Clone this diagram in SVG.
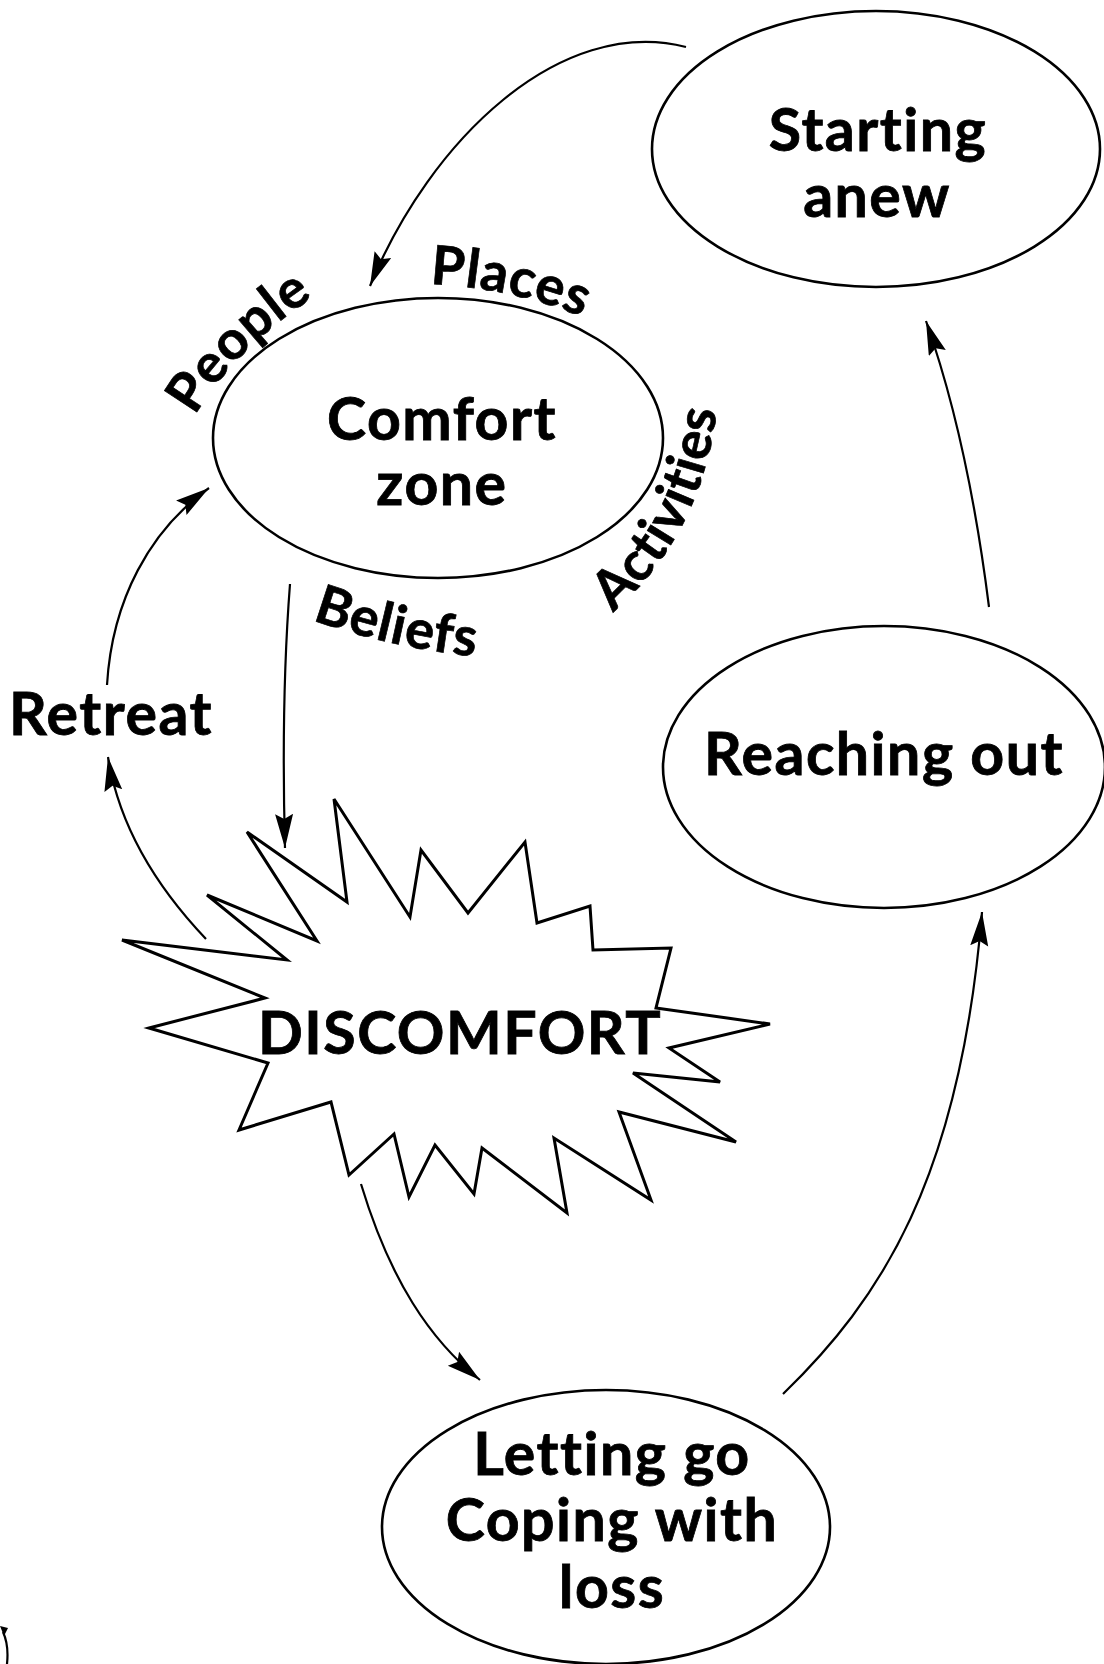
<svg xmlns="http://www.w3.org/2000/svg" width="1104" height="1664" viewBox="0 0 1104 1664">
<style>
.node{fill:#fff;stroke:#000;stroke-width:2.6}
.burst{fill:#fff;stroke:#000;stroke-width:3;stroke-linejoin:miter}
.t{font-family:Lato,"Liberation Sans",sans-serif;font-weight:700;fill:#000;stroke:#000;stroke-width:0.8;text-anchor:middle;font-size:59px;letter-spacing:1.5px;font-variant-ligatures:none;font-feature-settings:"liga" 0,"clig" 0}
.lbl{font-family:Lato,"Liberation Sans",sans-serif;font-weight:700;fill:#000;stroke:#000;stroke-width:0.7;font-size:54px;letter-spacing:0.8px;font-variant-ligatures:none;font-feature-settings:"liga" 0,"clig" 0}
.c{fill:none;stroke:#000;stroke-width:2.2}
</style>
<defs>
<marker id="ah" markerUnits="userSpaceOnUse" markerWidth="36" markerHeight="20" refX="34" refY="9" orient="auto">
<path d="M0,0 L34,9 L0,18 L5,9 Z" fill="#000"/>
</marker>
<path id="pPeople" d="M195,416 Q240,338 350,274"/>
<path id="pPlaces" d="M430,284 Q540,290 620,336"/>
<path id="pAct" d="M613,612 C672,560 727,480 720,320"/>
<path id="pBel" d="M312,620 Q430,662 560,660"/>
</defs>
<rect width="1104" height="1664" fill="#fff"/>

<g id="connectors">
<path class="c" d="M686,47 C560,15 430,140 370,286" marker-end="url(#ah)"/>
<path class="c" d="M290,584 Q281,700 285,848" marker-end="url(#ah)"/>
<path class="c" d="M206,939 C150,880 118,820 108,757" marker-end="url(#ah)"/>
<path class="c" d="M107,685 C112,600 150,530 209,488" marker-end="url(#ah)"/>
<path class="c" d="M361,1184 C390,1280 430,1340 480,1380" marker-end="url(#ah)"/>
<path class="c" d="M783,1394 C880,1300 960,1180 982,912" marker-end="url(#ah)"/>
<path class="c" d="M989,607 Q968,440 926,321" marker-end="url(#ah)"/>
<path class="c" d="M7,1664 Q9,1645 3,1632"/>
<path d="M0,1626 L8,1628 L4,1636 Z" fill="#000"/>
</g>

<g id="starting">
<ellipse class="node" cx="876" cy="149" rx="224" ry="138"/>
<text class="t" x="878" y="151">Starting</text>
<text class="t" x="877" y="217">anew</text>
</g>

<g id="comfort">
<ellipse class="node" cx="438" cy="438" rx="225" ry="140"/>
<text class="t" x="442" y="440">Comfort</text>
<text class="t" x="442" y="505">zone</text>
<text class="lbl"><textPath href="#pPeople">People</textPath></text>
<text class="lbl"><textPath href="#pPlaces">Places</textPath></text>
<text class="lbl"><textPath href="#pAct">Activities</textPath></text>
<text class="lbl"><textPath href="#pBel">Beliefs</textPath></text>
</g>

<g id="reaching">
<ellipse class="node" cx="884" cy="767" rx="221" ry="141"/>
<text class="t" x="884" y="775">Reaching out</text>
</g>

<g id="discomfort">
<polygon class="burst" points="149,1028 265,998 122,940 287,960 207,895 317,941 247,832 347,902 334,799 410,917 421,850 468,913 525,842 537,923 590,906 593,950 671,948 656,1008 770,1024 669,1048 720,1082 633,1073 736,1142 619,1112 651,1200 554,1138 567,1213 482,1148 474,1194 435,1145 409,1197 394,1134 349,1175 331,1102 239,1130 268,1063"/>
<text class="t" x="460" y="1054">DISCOMFORT</text>
</g>

<g id="letting">
<ellipse class="node" cx="606" cy="1527" rx="224" ry="137"/>
<text class="t" x="612" y="1475">Letting go</text>
<text class="t" x="612" y="1541">Coping with</text>
<text class="t" x="612" y="1608">loss</text>
</g>

<g id="retreat">
<text class="t" x="111" y="735">Retreat</text>
</g>
</svg>
